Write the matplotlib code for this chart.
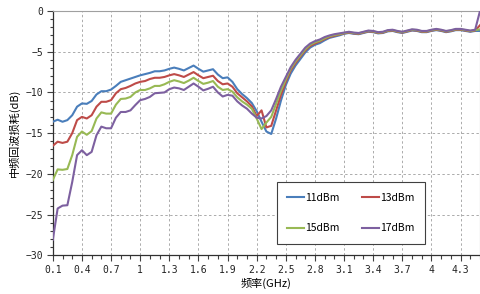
import numpy as np
import matplotlib
matplotlib.use("Agg")
import matplotlib.pyplot as plt
from matplotlib.ticker import MultipleLocator, FixedLocator

plt.rcParams['font.family'] = ['Noto Sans CJK SC', 'DejaVu Sans']
plt.rcParams['axes.unicode_minus'] = True

# frequency points, 0.1 .. 4.5 GHz in 0.05 steps
freq = np.round(np.arange(0.1, 4.5001, 0.05), 2)

p11 = [-13.6, -13.35, -13.6, -13.4, -12.8, -11.75, -11.35, -11.4, -11.05, -10.25,
       -9.85, -9.85, -9.65, -9.2, -8.7, -8.5, -8.3, -8.1, -7.9, -7.75,
       -7.6, -7.4, -7.4, -7.3, -7.1, -6.95, -7.1, -7.3, -7.0, -6.7,
       -7.1, -7.45, -7.3, -7.15, -7.8, -8.25, -8.15, -8.7, -9.6, -10.2,
       -10.7, -11.3, -12.3, -13.6, -14.8, -15.1, -13.2, -11.0, -9.1, -7.7,
       -6.7, -5.9, -5.1, -4.5, -4.15, -3.95, -3.6, -3.3, -3.15, -3.0,
       -2.8, -2.7, -2.8, -2.85, -2.7, -2.55, -2.6, -2.75, -2.7, -2.5,
       -2.45, -2.6, -2.7, -2.55, -2.4, -2.45, -2.6, -2.6, -2.45, -2.35,
       -2.45, -2.6, -2.5, -2.35, -2.35, -2.45, -2.55, -2.45, -2.45]
p13 = [-16.55, -16.05, -16.2, -16.05, -15.0, -13.4, -13.0, -13.2, -12.8, -11.75,
       -11.15, -11.15, -10.95, -10.1, -9.6, -9.45, -9.2, -8.9, -8.7, -8.6,
       -8.35, -8.2, -8.2, -8.1, -7.9, -7.75, -7.9, -8.1, -7.8, -7.5,
       -7.9, -8.25, -8.1, -7.95, -8.6, -9.0, -8.9, -9.3, -10.1, -10.6,
       -11.1, -11.7, -12.9, -12.2, -14.3, -14.1, -12.2, -10.3, -8.7, -7.3,
       -6.4, -5.6, -4.85, -4.3, -4.0, -3.75, -3.45, -3.2, -3.05, -2.9,
       -2.75, -2.65, -2.75, -2.8, -2.65, -2.5, -2.55, -2.7, -2.65, -2.45,
       -2.4, -2.55, -2.65, -2.5, -2.35, -2.4, -2.55, -2.55, -2.4, -2.3,
       -2.4, -2.55, -2.45, -2.3, -2.3, -2.4, -2.5, -2.4, -1.75]
p15 = [-20.75, -19.45, -19.5, -19.4, -17.7, -15.45, -14.8, -15.2, -14.75, -13.2,
       -12.45, -12.6, -12.6, -11.5, -10.8, -10.75, -10.55, -10.0, -9.7, -9.7,
       -9.5, -9.2, -9.2, -9.0, -8.7, -8.5, -8.65, -8.85, -8.55, -8.2,
       -8.6, -8.95, -8.8, -8.6, -9.3, -9.7, -9.6, -9.9, -10.6, -11.1,
       -11.5, -12.0, -13.2, -14.5, -13.7, -13.0, -11.4, -9.8, -8.4, -7.1,
       -6.2, -5.45, -4.7, -4.15, -3.85, -3.65, -3.35, -3.1, -2.95, -2.85,
       -2.7, -2.6, -2.7, -2.75, -2.6, -2.45, -2.5, -2.65, -2.6, -2.4,
       -2.35, -2.5, -2.6, -2.45, -2.3, -2.35, -2.5, -2.5, -2.35, -2.25,
       -2.35, -2.5, -2.4, -2.25, -2.25, -2.35, -2.45, -2.35, -2.25]
p17 = [-28.1, -24.25, -23.9, -23.85, -21.0, -17.7, -17.1, -17.7, -17.3, -15.25,
       -14.2, -14.4, -14.4, -13.1, -12.4, -12.4, -12.2, -11.55, -10.95, -10.8,
       -10.55, -10.1, -10.05, -10.0, -9.6, -9.4, -9.5, -9.7, -9.3, -8.9,
       -9.3, -9.75, -9.55, -9.3, -10.0, -10.5, -10.3, -10.4, -11.1, -11.6,
       -12.0, -12.6, -13.1, -13.2, -12.9, -12.2, -10.8, -9.3, -8.1, -6.9,
       -6.0, -5.25, -4.5, -4.0, -3.7, -3.5, -3.2, -3.0, -2.85, -2.75,
       -2.65, -2.55, -2.65, -2.7, -2.55, -2.4, -2.45, -2.6, -2.55, -2.35,
       -2.3, -2.45, -2.55, -2.4, -2.25, -2.3, -2.45, -2.45, -2.3, -2.2,
       -2.3, -2.45, -2.35, -2.2, -2.2, -2.3, -2.4, -2.3, 0.0]

series = [("11dBm", p11, "#4A7EBB"),
          ("13dBm", p13, "#BE4B48"),
          ("15dBm", p15, "#98B954"),
          ("17dBm", p17, "#7D60A0")]

xticks = [0.1, 0.4, 0.7, 1.0, 1.3, 1.6, 1.9, 2.2, 2.5, 2.8, 3.1, 3.4, 3.7, 4.0, 4.3]
xlabels = ["0.1", "0.4", "0.7", "1", "1.3", "1.6", "1.9", "2.2", "2.5", "2.8",
           "3.1", "3.4", "3.7", "4", "4.3"]

fig = plt.figure(figsize=(4.8, 2.94), dpi=100)
ax = fig.add_axes([0.110, 0.1316, 0.89, 0.831])

lines = []
for name, vals, col in series:
    ln, = ax.plot(freq, vals, color=col, lw=1.5, label=name, zorder=3)
    lines.append(ln)

ax.set_xlim(0.1, 4.5)
ax.set_ylim(-30, 0)
ax.xaxis.set_major_locator(FixedLocator(xticks))
ax.set_xticklabels(xlabels)
ax.xaxis.set_minor_locator(MultipleLocator(0.1))
ax.yaxis.set_major_locator(MultipleLocator(5))
ax.yaxis.set_minor_locator(MultipleLocator(1))

ax.grid(True, which='major', color='#ABABAB', linestyle=(0, (2.5, 2.5)), lw=0.7)
ax.tick_params(which='both', direction='out', color='#404040', width=0.8)
ax.tick_params(which='major', length=4, labelsize=7, pad=3)
ax.tick_params(which='minor', length=2.5)
ax.tick_params(axis='x', which='minor', length=3)
for lab in ax.get_xticklabels() + ax.get_yticklabels():
    lab.set_family('DejaVu Sans Mono')
    lab.set_color('#222222')

for s in ['top', 'right']:
    ax.spines[s].set_color('#A0A0A0')
    ax.spines[s].set_linewidth(0.8)
for s in ['left', 'bottom']:
    ax.spines[s].set_color('#303030')
    ax.spines[s].set_linewidth(0.9)

ax.set_xlabel("频率(GHz)", fontsize=8, labelpad=2)
ax.set_ylabel("中频回波损耗(dB)", fontsize=8, labelpad=4)

# legend fills column by column, so order gives rows 11/13 and 15/17
order = [0, 2, 1, 3]
leg = ax.legend([lines[i] for i in order], [series[i][0] for i in order],
                ncol=2, loc='center', bbox_to_anchor=(0.731, 0.2755),
                bbox_transform=fig.transFigure, fontsize=7.5, frameon=True,
                fancybox=False, framealpha=1, borderpad=1.0, labelspacing=2.0,
                handlelength=1.6, handletextpad=0.1, columnspacing=2.2)
leg.get_frame().set_edgecolor('#404040')
leg.get_frame().set_linewidth(0.8)
leg.set_zorder(5)

fig.savefig("out.png", dpi=100)
